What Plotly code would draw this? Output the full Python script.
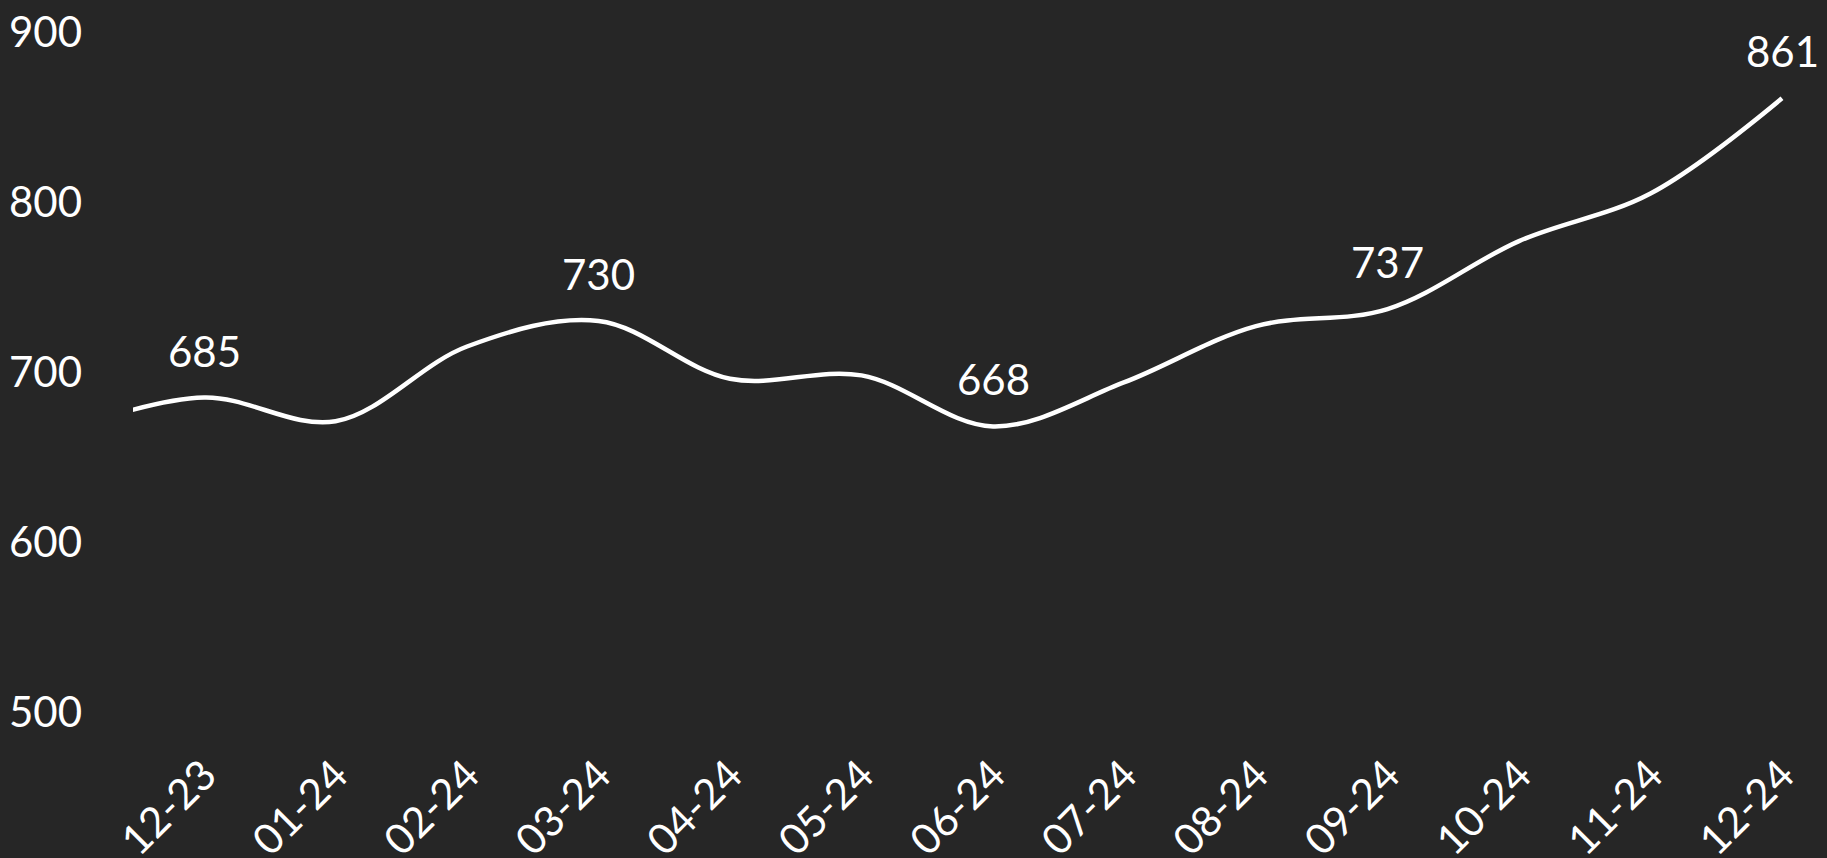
import plotly.graph_objects as go

months = ["11-23", "12-23", "01-24", "02-24", "03-24", "04-24", "05-24",
          "06-24", "07-24", "08-24", "09-24", "10-24", "11-24", "12-24"]
values = [667, 685, 671, 715, 730, 696, 698, 668, 694, 727, 737, 777, 805, 861]
label_months = ["12-23", "03-24", "06-24", "09-24", "12-24"]
label_values = [685, 730, 668, 737, 861]
y_ticks = [500, 600, 700, 800, 900]

BG = "#262626"
FONT = "Lato, 'Noto Sans', sans-serif"
W = 400

fig = go.Figure()
fig.add_trace(go.Scatter(
    x=months, y=values, mode="lines",
    line=dict(color="white", width=4.5, shape="spline", smoothing=1),
    hoverinfo="skip", showlegend=False,
))

for m, v in zip(label_months, label_values):
    fig.add_annotation(x=m, y=v, text=str(v), showarrow=False,
                       yanchor="bottom", yshift=20,
                       font=dict(family=FONT, size=42, color="white", weight=W))

fig.update_layout(
    width=1827, height=858,
    paper_bgcolor=BG, plot_bgcolor=BG,
    margin=dict(l=133, r=20, t=32, b=146, autoexpand=False),
    font=dict(family=FONT, size=42, color="white", weight=W),
    showlegend=False,
)
fig.update_xaxes(
    type="category", categoryorder="array", categoryarray=months,
    range=[0.46, 13.19], tickangle=-45, showgrid=False, zeroline=False,
    showline=False, ticks="", ticklabelstandoff=29, automargin=False,
    tickfont=dict(family=FONT, size=42, color="white", weight=W),
)
fig.update_yaxes(
    range=[500, 900], tickvals=y_ticks, showgrid=False, zeroline=False,
    showline=False, ticks="", ticklabelstandoff=50, automargin=False,
    tickfont=dict(family=FONT, size=42, color="white", weight=W),
)

fig.write_html(
    "out.html",
    config={"displayModeBar": False},
    post_script="document.body.style.margin='0';document.body.style.background='#262626';",
)
